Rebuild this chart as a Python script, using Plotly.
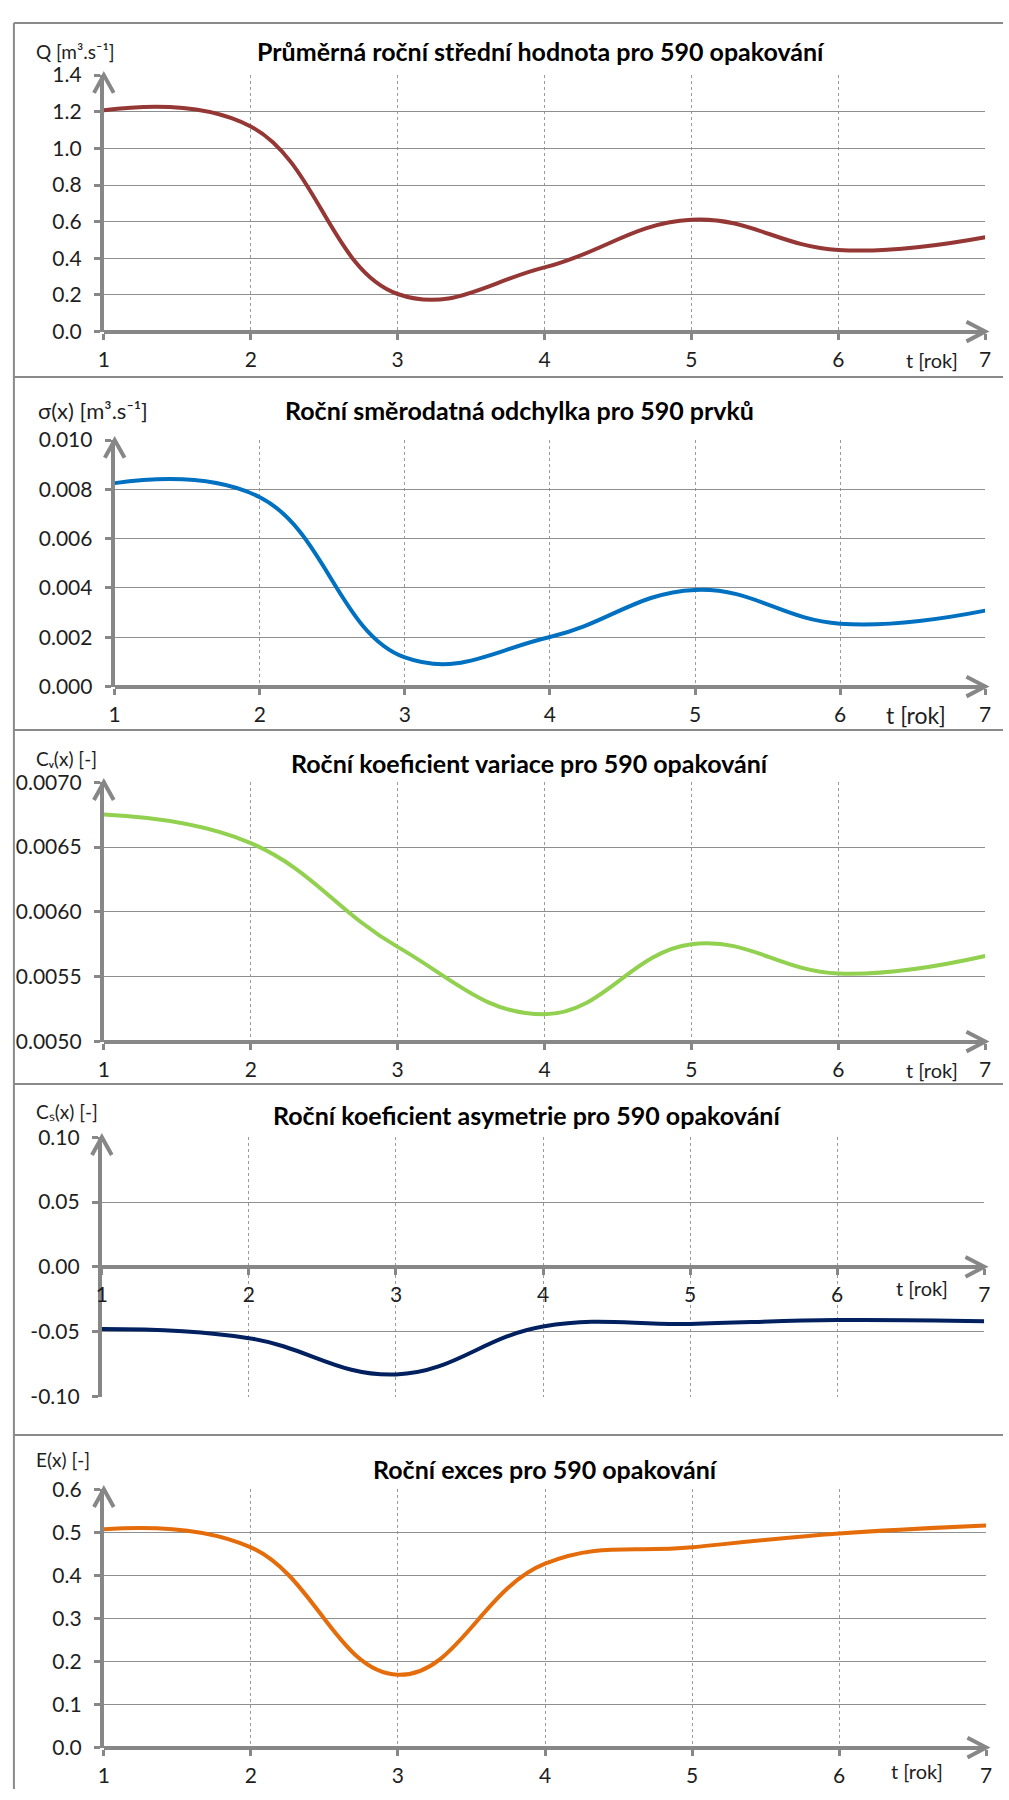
import plotly.graph_objects as go

# ---- data -------------------------------------------------------------
years = [1, 2, 3, 4, 5, 6, 7]
x_tick_labels = ["1", "2", "3", "4", "5", "6", "7"]

q_mean = [1.208, 1.12, 0.205, 0.35, 0.61, 0.445, 0.515]
q_std = [0.00825, 0.00768, 0.00118, 0.00201, 0.00392, 0.00255, 0.00308]
q_cv = [0.00675, 0.00653, 0.00573, 0.00521, 0.00575, 0.005525, 0.00566]
q_cs = [-0.048, -0.055, -0.083, -0.046, -0.044, -0.041, -0.042]
q_ex = [0.507, 0.465, 0.169, 0.427, 0.465, 0.497, 0.516]

titles = [
    "Průměrná roční střední hodnota pro 590 opakování",
    "Roční směrodatná odchylka pro 590 prvků",
    "Roční koeficient variace pro 590 opakování",
    "Roční koeficient asymetrie pro 590 opakování",
    "Roční exces pro 590 opakování",
]
y_titles = [
    "Q [m³.s⁻¹]",
    "σ(x) [m³.s⁻¹]",
    "Cᵥ(x) [-]",
    "Cₛ(x) [-]",
    "E(x) [-]",
]
y_ticks = [
    [0.0, 0.2, 0.4, 0.6, 0.8, 1.0, 1.2, 1.4],
    [0.000, 0.002, 0.004, 0.006, 0.008, 0.010],
    [0.0050, 0.0055, 0.0060, 0.0065, 0.0070],
    [-0.10, -0.05, 0.00, 0.05, 0.10],
    [0.0, 0.1, 0.2, 0.3, 0.4, 0.5, 0.6],
]
y_tick_labels = [
    ["0.0", "0.2", "0.4", "0.6", "0.8", "1.0", "1.2", "1.4"],
    ["0.000", "0.002", "0.004", "0.006", "0.008", "0.010"],
    ["0.0050", "0.0055", "0.0060", "0.0065", "0.0070"],
    ["-0.10", "-0.05", "0.00", "0.05", "0.10"],
    ["0.0", "0.1", "0.2", "0.3", "0.4", "0.5", "0.6"],
]
series = [q_mean, q_std, q_cv, q_cs, q_ex]
colors = ["#953735", "#0070C0", "#92D050", "#002060", "#E46C0A"]

# ---- page geometry (pixels) ------------------------------------------
W, H = 1009, 1800
# plot boxes: left, right, top, bottom
boxes = [
    (99, 991, 62, 322),
    (110, 991, 432, 682),
    (99, 991, 779, 1042),
    (97, 990, 1139, 1402),
    (99, 992, 1496, 1758),
]
title_pos = [(541, 38), (520, 402), (530, 760), (527, 1117), (546, 1475)]
ytitle_pos = [(28, 38, 19), (30, 402, 22), (28, 755, 19), (28, 1113, 19), (28, 1466, 19)]
unit_pos = [(965, 351, 20), (953, 711, 23), (965, 1071, 20), (955, 1292, 20), (950, 1782, 20)]
frame_rows = [9, 368, 726, 1085, 1441]

FONT = "Lato"
AXIS_GRAY = "#878787"
TEXT = "#1e1e1e"


def px(x):
    return x / W


def py(y):
    return 1 - y / H


fig = go.Figure()
layout = dict(
    width=W,
    height=H,
    margin=dict(l=0, r=0, t=0, b=0),
    paper_bgcolor="white",
    plot_bgcolor="white",
    showlegend=False,
    font=dict(family=FONT, color=TEXT),
)
shapes = []
annotations = []

for i in range(5):
    n = "" if i == 0 else str(i + 1)
    xa, ya = "x" + n, "y" + n
    l, r, t, b = boxes[i]
    ticks = y_ticks[i]
    ymin, ymax = ticks[0], ticks[-1]

    fig.add_trace(
        go.Scatter(
            x=years,
            y=series[i],
            mode="lines",
            line=dict(color=colors[i], width=4, shape="spline", smoothing=1.2),
            xaxis=xa,
            yaxis=ya,
            hoverinfo="skip",
        )
    )

    # where the horizontal axis line sits (zero line in the skewness panel)
    y_axis_val = 0.0 if ymin < 0 < ymax else ymin
    axis_py = b - (y_axis_val - ymin) / (ymax - ymin) * (b - t)

    layout["xaxis" + n] = dict(
        domain=[px(l), px(r)],
        range=[years[0], years[-1]],
        anchor="free",
        position=py(axis_py),
        tickvals=years,
        ticktext=x_tick_labels,
        showline=True,
        linewidth=4,
        linecolor=AXIS_GRAY,
        ticks="outside",
        ticklen=6,
        tickwidth=3,
        tickcolor=AXIS_GRAY,
        showgrid=True,
        gridcolor="#9a9a9a",
        gridwidth=1,
        griddash="dot",
        zeroline=False,
        tickfont=dict(family=FONT, size=21, color=TEXT),
        ticklabelstandoff=2,
        fixedrange=True,
    )
    layout["yaxis" + n] = dict(
        domain=[py(b), py(t)],
        range=[ymin, ymax],
        anchor=xa,
        tickvals=ticks,
        ticktext=y_tick_labels[i],
        showline=True,
        linewidth=4,
        linecolor=AXIS_GRAY,
        ticks="outside",
        ticklen=6,
        tickwidth=3,
        tickcolor=AXIS_GRAY,
        showgrid=True,
        gridcolor="#8f8f8f",
        gridwidth=1.3,
        zeroline=False,
        tickfont=dict(family=FONT, size=21, color=TEXT),
        ticklabelstandoff=8,
        fixedrange=True,
    )

    # open arrowheads at the ends of both axes
    shapes.append(dict(
        type="path", xref="paper", yref="paper",
        path=f"M{px(l - 10)},{py(t + 18)} L{px(l)},{py(t)} L{px(l + 10)},{py(t + 18)}",
        line=dict(color=AXIS_GRAY, width=4),
    ))
    shapes.append(dict(
        type="path", xref="paper", yref="paper",
        path=f"M{px(r - 19)},{py(axis_py - 10)} L{px(r)},{py(axis_py)} L{px(r - 19)},{py(axis_py + 10)}",
        line=dict(color=AXIS_GRAY, width=4),
    ))

    tx, ty = title_pos[i]
    annotations.append(dict(
        text=f"<b>{titles[i]}</b>", xref="paper", yref="paper",
        x=px(tx), y=py(ty), xanchor="center", yanchor="middle", showarrow=False,
        font=dict(family=FONT, size=25, color="#000000"),
    ))
    yx, yy, ys = ytitle_pos[i]
    annotations.append(dict(
        text=y_titles[i], xref="paper", yref="paper",
        x=px(yx), y=py(yy), xanchor="left", yanchor="middle", showarrow=False,
        font=dict(family=FONT, size=ys, color=TEXT),
    ))
    ux, uy, us = unit_pos[i]
    annotations.append(dict(
        text="t [rok]", xref="paper", yref="paper",
        x=px(ux), y=py(uy), xanchor="right", yanchor="middle", showarrow=False,
        font=dict(family=FONT, size=us, color=TEXT),
    ))

# panel frame lines
for fy in frame_rows:
    shapes.append(dict(type="line", xref="paper", yref="paper",
                       x0=px(8), x1=1, y0=py(fy), y1=py(fy),
                       line=dict(color="#8a8a8a", width=2)))
shapes.append(dict(type="line", xref="paper", yref="paper",
                   x0=px(8), x1=px(8), y0=py(frame_rows[0]), y1=0,
                   line=dict(color="#8a8a8a", width=2)))

layout["shapes"] = shapes
layout["annotations"] = annotations
fig.update_layout(**layout)
fig.write_html("out.html")
